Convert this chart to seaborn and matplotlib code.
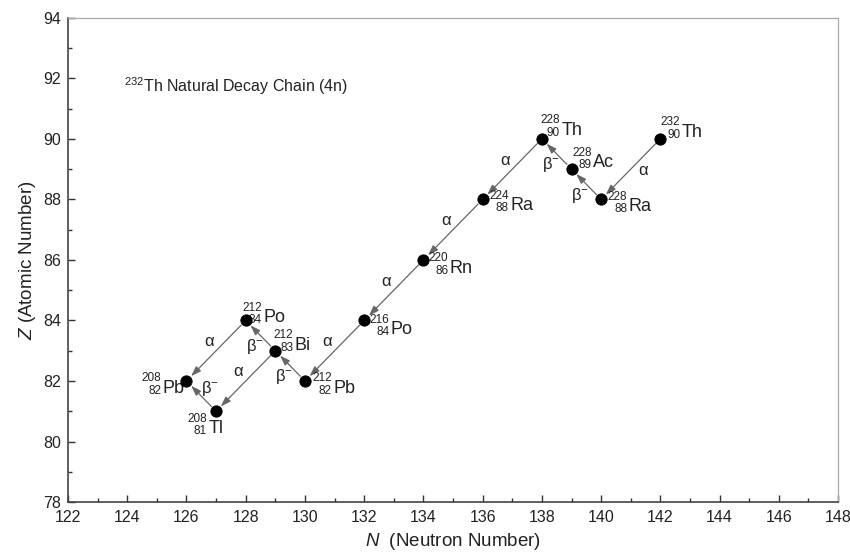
import matplotlib
matplotlib.use("Agg")
import matplotlib.pyplot as plt
import seaborn as sns
import pandas as pd
import numpy as np

# Data
elements = ["Th", "Ra", "Ac", "Th", "Ra", "Rn", "Po", "Pb", "Bi", "Po", "Tl", "Pb"]
mass = [232, 228, 228, 228, 224, 220, 216, 212, 212, 212, 208, 208]
Z = [90, 88, 89, 90, 88, 86, 84, 82, 83, 84, 81, 82]
N = [142, 140, 139, 138, 136, 134, 132, 130, 129, 128, 127, 126]
# decays: (from index, to index, type)
decay_from = [0, 1, 2, 3, 4, 5, 6, 7, 8, 8, 9, 10]
decay_to = [1, 2, 3, 4, 5, 6, 7, 8, 9, 10, 11, 11]
decay_type = ["a", "b", "b", "a", "a", "a", "a", "b", "b", "a", "a", "b"]

x_ticks = list(range(122, 149, 2))
y_ticks = list(range(78, 95, 2))

sns.set_theme(style="ticks")
plt.rcParams["font.family"] = ["Liberation Sans", "DejaVu Sans"]
plt.rcParams["mathtext.fontset"] = "custom"
plt.rcParams["mathtext.rm"] = "Liberation Sans"
plt.rcParams["mathtext.it"] = "Liberation Sans:italic"

df = pd.DataFrame({"N": N, "Z": Z, "el": elements, "A": mass})

fig = plt.figure(figsize=(8.5, 5.56), dpi=100)
ax = fig.add_axes([0.08, 0.097, 0.906, 0.871])

txt_color = "#222222"

# arrows
for f, t, ty in zip(decay_from, decay_to, decay_type):
    ax.annotate("", xy=(N[t], Z[t]), xytext=(N[f], Z[f]),
                arrowprops=dict(arrowstyle="-|>,head_length=0.5,head_width=0.17",
                                color="#666666", lw=0.9, shrinkA=4.8, shrinkB=4.8))
    mx = (N[f] + N[t]) / 2
    my = (Z[f] + Z[t]) / 2
    if ty == "a":
        if f == 0:
            ax.text(mx + 0.42, my - 0.05, "α", fontsize=12, ha="center", va="center", color=txt_color)
        else:
            ax.text(mx - 0.25, my + 0.3, "α", fontsize=12, ha="center", va="center", color=txt_color)
    else:
        if f == 10:
            ax.text(mx + 0.3, my + 0.25, r"β$^{-}$", fontsize=12, ha="center", va="center", color=txt_color)
        else:
            ax.text(mx - 0.2, my - 0.36, r"β$^{-}$", fontsize=12, ha="center", va="center", color=txt_color)

sns.scatterplot(data=df, x="N", y="Z", ax=ax, color="black", s=66,
                edgecolor="black", zorder=5, legend=False)

# label placement in pixels relative to marker: (scripts right edge dx, element baseline dy; +dy = down)
label_pos = {
    0: (20, -2),
    1: (26, 12),
    2: (20, -2),
    3: (18, -4),
    4: (26, 11),
    5: (25, 13),
    6: (25, 14),
    7: (27, 12),
    8: (18, -1),
    9: (16, 2),
    10: (-9, 22),
    11: (-25, 12),
}
px = 0.72  # points per pixel at 100 dpi
for i in range(len(N)):
    dx, dy = label_pos[i]
    # element symbol
    ax.annotate(elements[i], xy=(N[i], Z[i]), xytext=((dx + 1.5) * px, -dy * px),
                textcoords="offset points", fontsize=13, ha="left", va="baseline",
                color=txt_color)
    # mass number (superscript)
    ax.annotate(str(mass[i]), xy=(N[i], Z[i]), xytext=(dx * px, -(dy - 11.5) * px),
                textcoords="offset points", fontsize=8.5, ha="right", va="baseline",
                color=txt_color)
    # atomic number (subscript)
    ax.annotate(str(Z[i]), xy=(N[i], Z[i]), xytext=(dx * px, -(dy + 1) * px),
                textcoords="offset points", fontsize=8.5, ha="right", va="baseline",
                color=txt_color)

ax.text(123.9, 91.75, r"$^{232}$Th Natural Decay Chain (4n)", fontsize=11.5,
        ha="left", va="center", color=txt_color)

ax.set_xlim(122, 148)
ax.set_ylim(78, 94)
ax.set_xticks(x_ticks)
ax.set_yticks(y_ticks)
ax.set_xticks(range(123, 148, 2), minor=True)
ax.set_yticks(range(79, 94, 2), minor=True)
ax.tick_params(axis="x", which="major", pad=6)
ax.tick_params(axis="y", which="major", pad=5)
ax.tick_params(axis="both", which="major", direction="in", length=5, width=1,
               labelsize=11.5, color="#333333", labelcolor=txt_color)
ax.tick_params(axis="both", which="minor", direction="in", length=3, width=1, color="#333333")
for s in ["top", "right"]:
    ax.spines[s].set_color("#aaaaaa")
    ax.spines[s].set_linewidth(0.9)
for s in ["left", "bottom"]:
    ax.spines[s].set_color("#444444")
    ax.spines[s].set_linewidth(1.2)

ax.set_xlabel(r"$\mathit{N}$  (Neutron Number)", fontsize=13.5, color=txt_color, labelpad=4)
ax.set_ylabel(r"$\mathit{Z}$ (Atomic Number)", fontsize=13.5, color=txt_color, labelpad=4)

fig.savefig("out.png", dpi=100)
